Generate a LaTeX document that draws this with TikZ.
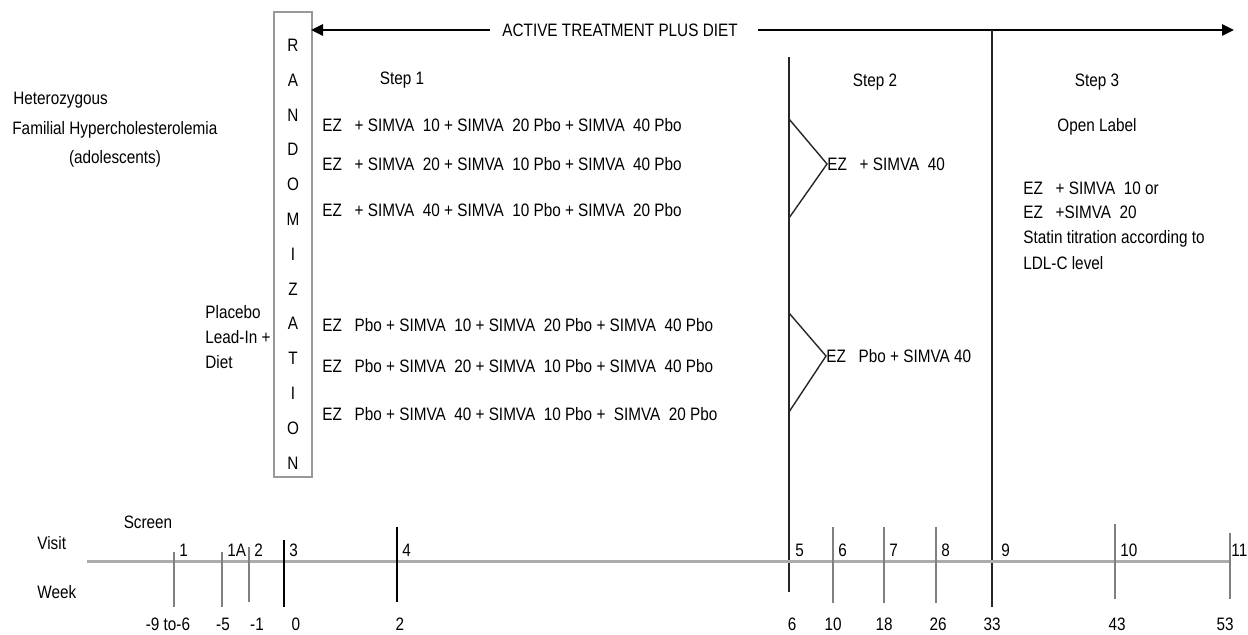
\documentclass[tikz,border=0pt]{standalone}
\usepackage{fontspec}
\setmainfont{Liberation Sans}[FakeStretch=0.85]
\usetikzlibrary{arrows.meta}

\begin{document}
\begin{tikzpicture}
[x=0.5pt,y=-0.5pt,
 every node/.style={font=\fontsize{9}{11}\selectfont,inner sep=0pt,text height=6.45pt,text depth=0pt},
 txt/.style={anchor=west},
 thinline/.style={draw=black!85,line width=0.7pt},
 tick/.style={line width=0.7pt},
 bigarrow/.style={line width=1.4pt,-{Triangle[length=6pt,width=5.5pt]}}]
\useasboundingbox (0,0) rectangle (1248,635);

% randomization box
\node (rand) [draw=gray!80,line width=0.7pt,minimum width=19pt,minimum height=232.5pt] at (293,244.5) {};
\foreach \ch [count=\i] in {R,A,N,D,O,M,I,Z,A,T,I,O,N}
  \node (rl\i) at (293,{45+(\i-1)*34.8}) {\ch};

% active treatment arrow
\coordinate (aL) at (311,30);
\coordinate (aR) at (1234,30);
\node (atpd) at (620,30) {ACTIVE TREATMENT PLUS DIET};
\draw[bigarrow] ([xshift=-6pt]atpd.west) -- (aL);
\draw[bigarrow] ([xshift=10pt]atpd.east) -- (aR);

% population
\node[txt] (het) at (13,98) {Heterozygous};
\node[txt] (fh) at (12,128) {Familial Hypercholesterolemia};
\node (ado) at (115,157) {(adolescents)};
\node[txt] (plc) at (205,312) {Placebo};
\node[txt] (lead) at (205,337) {Lead-In +};
\node[txt] (diet) at (205,362) {Diet};

% step 1
\node (st1) at (402,78) {Step 1};
\node[txt] (a1) at (322,125) {EZ\ \ \ + SIMVA\ \ 10 + SIMVA\ \ 20 Pbo + SIMVA\ \ 40 Pbo};
\node[txt] (a2) at (322,164) {EZ\ \ \ + SIMVA\ \ 20 + SIMVA\ \ 10 Pbo + SIMVA\ \ 40 Pbo};
\node[txt] (a3) at (322,210) {EZ\ \ \ + SIMVA\ \ 40 + SIMVA\ \ 10 Pbo + SIMVA\ \ 20 Pbo};
\node[txt] (p1) at (322,325) {EZ\ \ \ Pbo + SIMVA\ \ 10 + SIMVA\ \ 20 Pbo + SIMVA\ \ 40 Pbo};
\node[txt] (p2) at (322,366) {EZ\ \ \ Pbo + SIMVA\ \ 20 + SIMVA\ \ 10 Pbo + SIMVA\ \ 40 Pbo};
\node[txt] (p3) at (322,414) {EZ\ \ \ Pbo + SIMVA\ \ 40 + SIMVA\ \ 10 Pbo +\ \ SIMVA\ \ 20 Pbo};

% step 2
\coordinate (s2top) at (789,57);
\coordinate (s2bot) at (789,592);
\draw[thinline] (s2top) -- (s2bot);
\node (st2) at (875,80) {Step 2};
\node[txt] (b1) at (827,164) {EZ\ \ \ + SIMVA\ \ 40};
\node[txt] (b2) at (826,356) {EZ\ \ \ Pbo + SIMVA 40};
\coordinate (c1a) at (789,119);
\coordinate (c1b) at (789,218);
\coordinate (c2a) at (789,313);
\coordinate (c2b) at (789,412);
\draw[thinline,line join=miter] (c1a) -- (b1.west) -- (c1b);
\draw[thinline,line join=miter] (c2a) -- (b2.west) -- (c2b);

% step 3
\coordinate (s3top) at (992,30);
\coordinate (s3bot) at (992,607);
\draw[thinline] (s3top) -- (s3bot);
\node (st3) at (1097,80) {Step 3};
\node (ol) at (1097,125) {Open Label};
\node[txt] (d1) at (1023,188) {EZ\ \ \ + SIMVA\ \ 10 or};
\node[txt] (d2) at (1023,212) {EZ\ \ \ +SIMVA\ \ 20};
\node[txt] (d3) at (1023,237) {Statin titration according to};
\node[txt] (d4) at (1023,263) {LDL-C level};

% time line
\coordinate (tl0) at (87,562);
\coordinate (tl1) at (1230,562);
\draw[gray!65,line width=1.5pt] (tl0) -- (tl1);
\node[txt] (visit) at (37,543) {Visit};
\node[txt] (week) at (37,592) {Week};
\node (scr) at (148,522) {Screen};
\foreach \x/\t/\b/\c/\v in {174/552/607/gray/1,222/552/607/gray/1A,249/547/602/gray/2,284/540/607/black/3,397/527/602/black/4,833/527/603/gray/6,884/527/603/gray/7,936/527/603/gray/8,1115/524/599/gray/10}
{
\draw[tick,draw=\c] (\x,\t) -- (\x,\b);
\node[txt] (v\v) at (\x+5,550) {\v};
}
\draw[tick,draw=gray] (1230,533) -- (1230,599);
\node[txt] (v11) at (1231,550) {11};
\node[txt] (v5) at (795,550) {5};
\node[txt] (v9) at (1001,550) {9};
\foreach \x/\w [count=\i] in {168/-9 to-6,223/-5,257/-1,296/0,400/2,792/6,833/10,884/18,938/26,992/33,1117/43,1225/53}
  \node (w\i) at (\x,624) {\w};
\end{tikzpicture}
\end{document}
